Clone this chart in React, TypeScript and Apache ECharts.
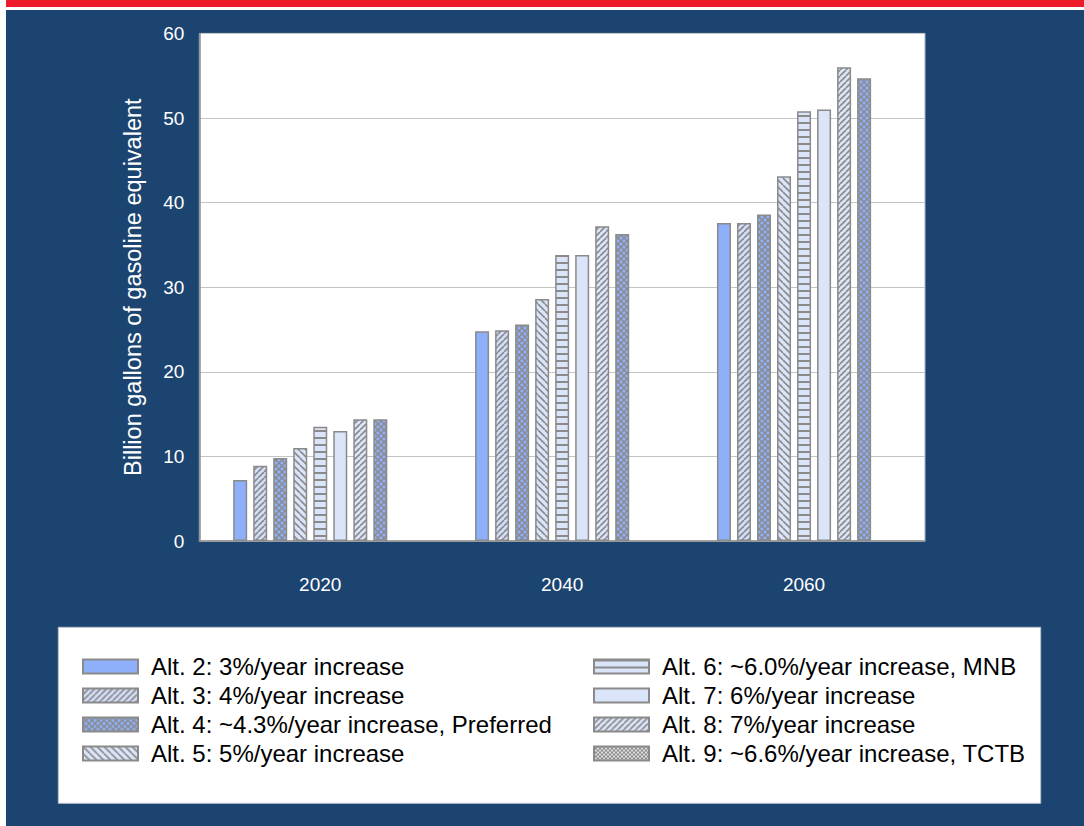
import React, { useEffect, useRef } from 'react';
import * as echarts from 'echarts';

const categories = ['2020', '2040', '2060'];
const seriesNames = [
  'Alt. 2: 3%/year increase',
  'Alt. 3: 4%/year increase',
  'Alt. 4: ~4.3%/year increase, Preferred',
  'Alt. 5: 5%/year increase',
  'Alt. 6: ~6.0%/year increase, MNB',
  'Alt. 7: 6%/year increase',
  'Alt. 8: 7%/year increase',
  'Alt. 9: ~6.6%/year increase, TCTB',
];
const alt2 = [7.2, 24.8, 37.6];
const alt3 = [8.9, 24.9, 37.6];
const alt4 = [9.8, 25.6, 38.6];
const alt5 = [11.0, 28.6, 43.1];
const alt6 = [13.5, 33.8, 50.8];
const alt7 = [13.0, 33.8, 51.0];
const alt8 = [14.4, 37.2, 56.0];
const alt9 = [14.4, 36.3, 54.7];
const emptySlot = [null, null, null];
const yMin = 0;
const yMax = 60;
const yStep = 10;
const yAxisTitle = 'Billion gallons of gasoline equivalent';

const LINE = '#8a8a8a';
const BLUE = '#8eb0fb';
const LIGHT = '#dbe5fa';
const LIGHT2 = '#d2def9';
const FONT = '"Liberation Sans", Arial, sans-serif';

function tile(w: number, h: number, bg: string, draw: (ctx: CanvasRenderingContext2D, w: number, h: number) => void) {
  const c = document.createElement('canvas');
  c.width = w;
  c.height = h;
  const ctx = c.getContext('2d')!;
  ctx.fillStyle = bg;
  ctx.fillRect(0, 0, w, h);
  ctx.strokeStyle = LINE;
  ctx.fillStyle = LINE;
  draw(ctx, w, h);
  return { image: c.toDataURL(), repeat: 'repeat', imageWidth: w, imageHeight: h };
}

function diagUp(s: number, bg: string, lw: number) {
  return tile(s, s, bg, (ctx) => {
    ctx.lineWidth = lw;
    for (let k = -1; k <= 1; k++) {
      ctx.beginPath();
      ctx.moveTo(k * s, s);
      ctx.lineTo(k * s + s, 0);
      ctx.stroke();
    }
  });
}
function diagDown(s: number, bg: string, lw: number) {
  return tile(s, s, bg, (ctx) => {
    ctx.lineWidth = lw;
    for (let k = -1; k <= 1; k++) {
      ctx.beginPath();
      ctx.moveTo(k * s, 0);
      ctx.lineTo(k * s + s, s);
      ctx.stroke();
    }
  });
}
function cross(s: number, bg: string, lw: number) {
  return tile(s, s, bg, (ctx) => {
    ctx.lineWidth = lw;
    for (let k = -1; k <= 1; k++) {
      ctx.beginPath();
      ctx.moveTo(k * s, s);
      ctx.lineTo(k * s + s, 0);
      ctx.stroke();
      ctx.beginPath();
      ctx.moveTo(k * s, 0);
      ctx.lineTo(k * s + s, s);
      ctx.stroke();
    }
  });
}
function horiz(h: number, bg: string) {
  return tile(4, h, bg, (ctx, w) => {
    ctx.fillRect(0, 0, w, 2);
  });
}

export default function App() {
  const ref = useRef<HTMLDivElement>(null);
  useEffect(() => {
    if (!ref.current) return;
    const chart = echarts.init(ref.current, undefined, { renderer: 'svg' });
    const fills: any[] = [
      BLUE,
      diagUp(6, LIGHT2, 1.6),
      cross(6, BLUE, 1.3),
      diagDown(7, LIGHT, 1.6),
      horiz(7, LIGHT),
      LIGHT,
      diagUp(6, LIGHT, 1.6),
      cross(6, BLUE, 1.3),
    ];
    const legend9 = cross(4, '#ffffff', 1.2);
    const values = [alt2, alt3, alt4, alt5, alt6, alt7, alt8, alt9];
    const series: any[] = values.map((v, i) => ({
      type: 'bar',
      name: seriesNames[i],
      data: v,
      barWidth: 14,
      barGap: '43%',
      itemStyle: { color: fills[i], borderColor: LINE, borderWidth: 1.5 },
    }));
    series.push({
      type: 'bar',
      name: 'empty',
      data: emptySlot,
      barWidth: 14,
      barGap: '43%',
    });
    const legendCommon = {
      orient: 'vertical',
      top: 642,
      padding: 0,
      itemGap: 0,
      itemWidth: 55,
      itemHeight: 14,
      icon: 'rect',
      selectedMode: false,
      textStyle: { fontFamily: FONT, fontSize: 24, color: '#000', lineHeight: 29, padding: [0, 0, 0, 8] },
    };
    chart.setOption({
      animation: false,
      backgroundColor: '#1c4470',
      textStyle: { fontFamily: FONT },
      grid: {
        left: 193.3,
        top: 23.4,
        width: 725.7,
        height: 507.6,
        show: true,
        backgroundColor: '#ffffff',
        borderColor: '#a9b4c4',
        borderWidth: 1,
      },
      graphic: [
        {
          type: 'rect',
          shape: { x: 52.3, y: 617.3, width: 982.4, height: 176 },
          style: { fill: '#ffffff', stroke: '#b9c0cc', lineWidth: 1 },
        },
      ],
      legend: [
        { ...legendCommon, left: 76, data: seriesNames.slice(0, 4) },
        {
          ...legendCommon,
          left: 587,
          data: seriesNames.slice(4, 8).map((n, i) =>
            i === 3 ? { name: n, itemStyle: { color: legend9 } } : { name: n }
          ),
        },
      ],
      xAxis: {
        type: 'category',
        data: categories,
        axisLine: { show: true, lineStyle: { color: '#8c8c8c', width: 1.5 } },
        axisTick: { show: false },
        axisLabel: { color: '#ffffff', fontSize: 19, margin: 34, fontFamily: FONT },
      },
      yAxis: {
        type: 'value',
        min: yMin,
        max: yMax,
        interval: yStep,
        name: yAxisTitle,
        nameLocation: 'middle',
        nameGap: 54,
        nameTextStyle: { color: '#ffffff', fontSize: 23.5, fontFamily: FONT },
        axisLine: { show: true, lineStyle: { color: '#8c8c8c', width: 1.5 } },
        axisTick: { show: false },
        axisLabel: { color: '#ffffff', fontSize: 19, margin: 15, fontFamily: FONT },
        splitLine: { show: true, lineStyle: { color: '#c4c4c4', width: 1 } },
      },
      series,
    });
    return () => chart.dispose();
  }, []);
  return (
    <div style={{ position: 'absolute', left: 0, top: 0, width: 1084, height: 826, background: '#ffffff', overflow: 'hidden' }}>
      <div style={{ position: 'absolute', left: 6, top: 0, width: 1078, height: 7, background: '#ee1c2b' }} />
      <div ref={ref} style={{ position: 'absolute', left: 6, top: 10, width: 1078, height: 816 }} />
    </div>
  );
}
